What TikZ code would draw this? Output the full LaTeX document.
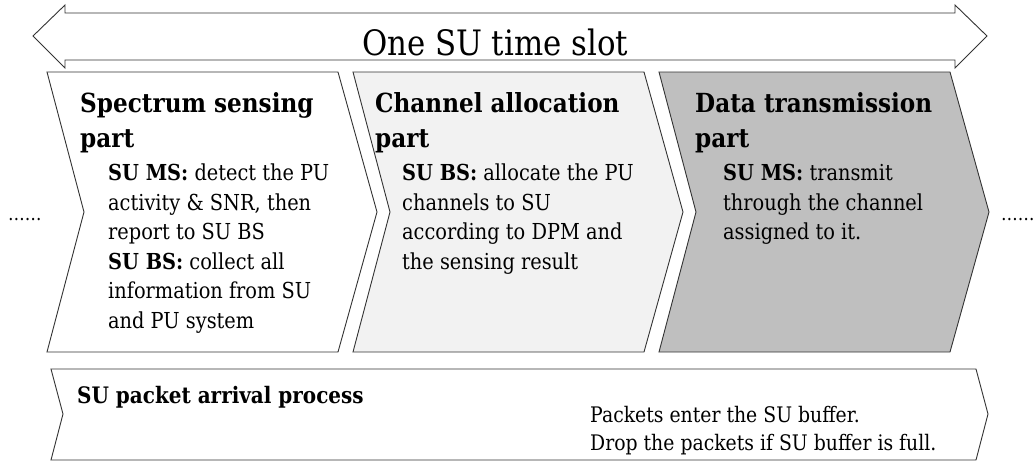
\documentclass[tikz,border=0pt]{standalone}
\usepackage{fontspec}
\setmainfont{DejaVu Serif}[FakeStretch=0.88]

\begin{document}
\begin{tikzpicture}[x=1pt,y=-1pt,
    part/.style={draw=black!80,line width=.9pt},
    headtext/.style={anchor=north west,inner sep=0pt,align=left,
      font=\fontsize{26.3}{35}\selectfont\bfseries},
    bodytext/.style={anchor=north west,inner sep=0pt,align=left,
      font=\fontsize{22}{29.5}\selectfont}]

      \useasboundingbox (0,0) rectangle (1036,464);

      % the time slot arrow
      \draw[part,fill=white] (33,36) -- (65,5) -- (65,13) -- (955,13) -- (955,5)
        -- (987,36) -- (955,68) -- (955,60) -- (65,60) -- (65,68) -- cycle;
      \node[anchor=base,inner sep=0pt,font=\fontsize{35}{35}\selectfont]
        (slot) at (495,55) {One SU time slot};

      % the three parts
      \foreach \x/\c in {47/white,353/black!5,659/black!25}
        \draw[part,fill=\c] (\x,72) -- ++(291,0) -- ++(39,140) -- ++(-39,140)
          -- ++(-291,0) -- ++(37,-140) -- cycle;

      % arrival process
      \draw[part,fill=white] (51,369) -- (976,369) -- (988,414) -- (976,460)
        -- (51,460) -- (63,414) -- cycle;

      \begin{scope}[every node/.style=headtext]
        \node (sensehead) at (80,92)  {Spectrum sensing\\part};
        \node (allochead) at (375,92) {Channel allocation\\part};
        \node (datahead)  at (695,92) {Data transmission\\part};
      \end{scope}

      \begin{scope}[every node/.style=bodytext]
        \node (sensebody) at (108,164) {\textbf{SU MS:} detect the PU\\
          activity \& SNR, then\\report to SU BS\\
          \textbf{SU BS:} collect all\\information from SU\\and PU system};
        \node (allocbody) at (402,164) {\textbf{SU BS:} allocate the PU\\
          channels to SU\\according to DPM and\\the sensing result};
        \node (databody)  at (723,164) {\textbf{SU MS:} transmit\\
          through the channel\\assigned to it.};
      \end{scope}

      \node[anchor=base west,inner sep=0pt,font=\fontsize{22.7}{22.7}\selectfont\bfseries]
        (arrhead) at (77,403) {SU packet arrival process};
      \node[anchor=north west,inner sep=0pt,align=left,font=\fontsize{21.4}{28}\selectfont]
        (arrbody) at (590,406) {Packets enter the SU buffer.\\
          Drop the packets if SU buffer is full.};

      % dots before and after
      \node[anchor=base west,inner sep=0pt,font=\fontsize{19}{19}\selectfont]
        (dotsleft) at (8,220) {……};
      \node[anchor=base west,inner sep=0pt,font=\fontsize{19}{19}\selectfont]
        (dotsright) at (1001,220) {……};

    \end{tikzpicture}
\end{document}
